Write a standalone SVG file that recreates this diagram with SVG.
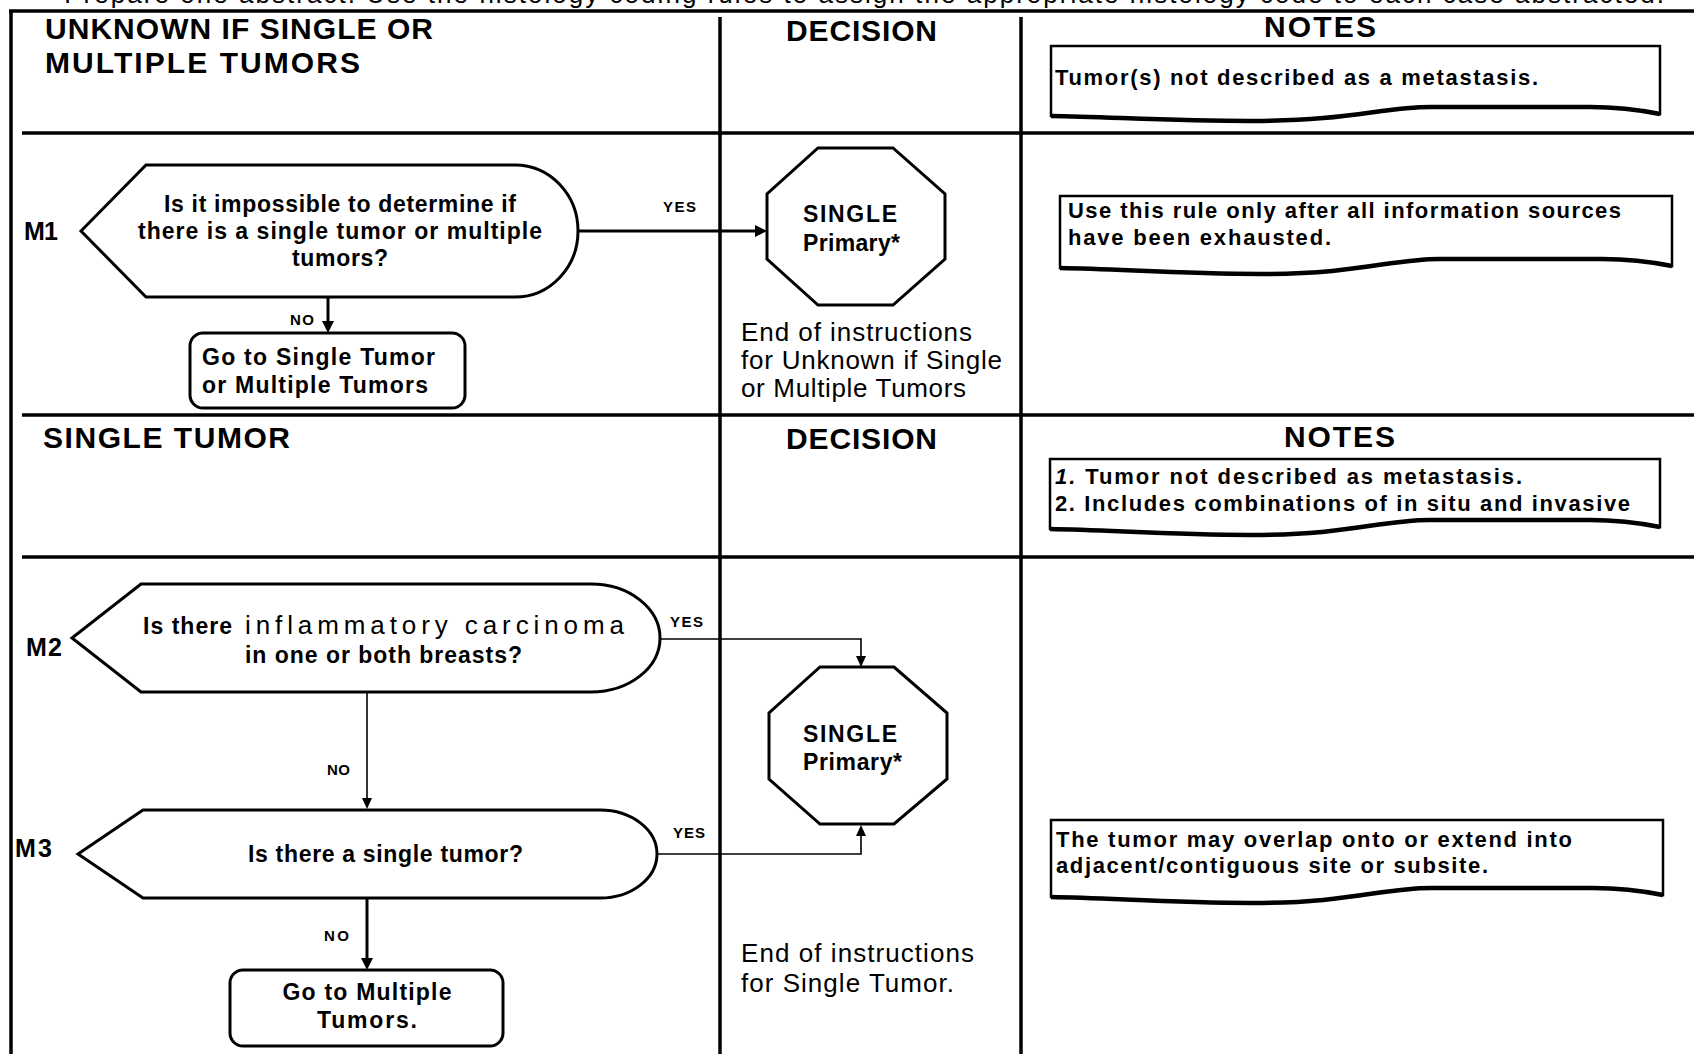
<svg xmlns="http://www.w3.org/2000/svg" width="1694" height="1054" viewBox="0 0 1694 1054">
<defs>
<style>
text{font-family:"Liberation Sans",Arial,sans-serif;fill:#000}
.hdr{font-size:30px;font-weight:bold}
.q{font-size:23px;font-weight:bold}
.oct{font-size:23px;font-weight:bold}
.note{font-size:22px;font-weight:bold}
.plain{font-size:26px}
.lbl{font-size:15px;font-weight:bold}
.m{font-size:25px;font-weight:bold}
.grid{stroke:#000;stroke-width:3.5;fill:none}
.shape{fill:#fff;stroke:#000;stroke-width:3}
.nbox{fill:#fff;stroke:#000;stroke-width:2.5}
.wave{fill:none;stroke:#000;stroke-width:4.5}
.thick{stroke:#000;stroke-width:3;fill:none}
.thin{stroke:#000;stroke-width:1.6;fill:none}
</style>
<marker id="ah" markerUnits="userSpaceOnUse" viewBox="0 0 12 12" refX="1" refY="6" markerWidth="12" markerHeight="12" orient="auto"><path d="M0,0 L12,6 L0,12 Z" fill="#000"/></marker>
<marker id="ahs" markerUnits="userSpaceOnUse" viewBox="0 0 11 10" refX="1" refY="5" markerWidth="11" markerHeight="10" orient="auto"><path d="M0,0 L11,5 L0,10 Z" fill="#000"/></marker>
</defs>
<rect x="0" y="0" width="1694" height="1054" fill="#fff"/>
<text class="plain" x="52" y="3" textLength="1612" lengthAdjust="spacing">*Prepare one abstract. Use the histology coding rules to assign the appropriate histology code to each case abstracted.</text>

<g id="grid">
<path class="grid" d="M9,11 H1694 M11,11 V1054 M720,17 V1054 M1021,17 V1054 M22,133 H1694 M22,415 H1694 M22,557 H1694"/>
</g>

<g id="headers">
<text class="hdr" x="45" y="39" textLength="388" lengthAdjust="spacing">UNKNOWN IF SINGLE OR</text>
<text class="hdr" x="45" y="73" textLength="315" lengthAdjust="spacing">MULTIPLE TUMORS</text>
<text class="hdr" x="786" y="41" textLength="151" lengthAdjust="spacing">DECISION</text>
<text class="hdr" x="1264" y="37" textLength="112" lengthAdjust="spacing">NOTES</text>
<text class="hdr" x="43" y="448" textLength="247" lengthAdjust="spacing">SINGLE TUMOR</text>
<text class="hdr" x="786" y="449" textLength="151" lengthAdjust="spacing">DECISION</text>
<text class="hdr" x="1284" y="447" textLength="111" lengthAdjust="spacing">NOTES</text>
</g>

<g id="connectors">
<path class="thick" d="M578,231 H756" marker-end="url(#ah)"/>
<path class="thick" d="M328,297 V322" marker-end="url(#ah)"/>
<path class="thin" d="M660,639 H861 V657" marker-end="url(#ahs)"/>
<path class="thin" d="M367,692 V799" marker-end="url(#ahs)"/>
<path class="thin" d="M657,854 H861 V835" marker-end="url(#ahs)"/>
<path class="thick" d="M367,898 V959" marker-end="url(#ah)"/>
<text class="lbl" x="663" y="212" textLength="33" lengthAdjust="spacing">YES</text>
<text class="lbl" x="290" y="325" textLength="24" lengthAdjust="spacing">NO</text>
<text class="lbl" x="670" y="627" textLength="33" lengthAdjust="spacing">YES</text>
<text class="lbl" x="327" y="775" textLength="23" lengthAdjust="spacing">NO</text>
<text class="lbl" x="673" y="838" textLength="32" lengthAdjust="spacing">YES</text>
<text class="lbl" x="324" y="941" textLength="25" lengthAdjust="spacing">NO</text>
</g>

<g id="note1">
<path class="nbox" d="M1051,46 H1660 V114 C1635,109 1615,107 1590,107 L1431,107 C1381,107 1351,121 1251,121 C1171,121 1111,117 1051,116 Z"/>
<path class="wave" d="M1660,114 C1635,109 1615,107 1590,107 L1431,107 C1381,107 1351,121 1251,121 C1171,121 1111,117 1051,116"/>
<text class="note" x="1055" y="85" textLength="483" lengthAdjust="spacing">Tumor(s) not described as a metastasis.</text>
</g>

<g id="M1">
<text class="m" x="24" y="240" textLength="34" lengthAdjust="spacing">M1</text>
<path class="shape" d="M81,231 L146,165 H515 A63,66 0 0 1 515,297 H146 Z"/>
<text class="q" x="340" y="212" text-anchor="middle" textLength="352" lengthAdjust="spacing">Is it impossible to determine if</text>
<text class="q" x="340" y="239" text-anchor="middle" textLength="404" lengthAdjust="spacing">there is a single tumor or multiple</text>
<text class="q" x="340" y="266" text-anchor="middle" textLength="96" lengthAdjust="spacing">tumors?</text>
</g>

<g id="go1">
<rect class="shape" x="190" y="333" width="275" height="75" rx="13"/>
<text class="q" x="202" y="365" textLength="233" lengthAdjust="spacing">Go to Single Tumor</text>
<text class="q" x="202" y="393" textLength="226" lengthAdjust="spacing">or Multiple Tumors</text>
</g>

<g id="single1">
<polygon class="shape" points="818,148 893,148 945,194 945,259 893,305 818,305 767,259 767,194"/>
<text class="oct" x="803" y="222" textLength="94" lengthAdjust="spacing">SINGLE</text>
<text class="oct" x="803" y="251" textLength="97" lengthAdjust="spacing">Primary*</text>
</g>

<g id="end1">
<text class="plain" x="741" y="341" textLength="231" lengthAdjust="spacing">End of instructions</text>
<text class="plain" x="741" y="369" textLength="261" lengthAdjust="spacing">for Unknown if Single</text>
<text class="plain" x="741" y="397" textLength="225" lengthAdjust="spacing">or Multiple Tumors</text>
</g>

<g id="note2">
<path class="nbox" d="M1060,196 H1672 V266 C1647,261 1627,259 1602,259 L1440,259 C1390,259 1360,274 1260,274 C1180,274 1120,269 1060,268 Z"/>
<path class="wave" d="M1672,266 C1647,261 1627,259 1602,259 L1440,259 C1390,259 1360,274 1260,274 C1180,274 1120,269 1060,268"/>
<text class="note" x="1068" y="218" textLength="553" lengthAdjust="spacing">Use this rule only after all information sources</text>
<text class="note" x="1068" y="245" textLength="263" lengthAdjust="spacing">have been exhausted.</text>
</g>

<g id="note3">
<path class="nbox" d="M1050,459 H1660 V527 C1635,522 1615,520 1590,520 L1430,520 C1380,520 1350,535 1250,535 C1170,535 1110,530 1050,529 Z"/>
<path class="wave" d="M1660,527 C1635,522 1615,520 1590,520 L1430,520 C1380,520 1350,535 1250,535 C1170,535 1110,530 1050,529"/>
<text class="note" x="1055" y="484" textLength="467" lengthAdjust="spacing"><tspan font-style="italic">1.</tspan> Tumor not described as metastasis.</text>
<text class="note" x="1055" y="511" textLength="575" lengthAdjust="spacing">2. Includes combinations of in situ and invasive</text>
</g>

<g id="M2">
<text class="m" x="26" y="656" textLength="36" lengthAdjust="spacing">M2</text>
<path class="shape" d="M72,638 L141,584 H591 A69,54 0 0 1 591,692 H141 Z"/>
<text class="q" x="143" y="634" textLength="89" lengthAdjust="spacing">Is there</text>
<text x="245" y="634" font-size="26" textLength="379" lengthAdjust="spacing">inflammatory carcinoma</text>
<text class="q" x="245" y="663" textLength="277" lengthAdjust="spacing">in one or both breasts?</text>
</g>

<g id="M3">
<text class="m" x="15" y="857" textLength="37" lengthAdjust="spacing">M3</text>
<path class="shape" d="M78,854 L143,810 H600 A57,44 0 0 1 600,898 H143 Z"/>
<text class="q" x="248" y="862" textLength="275" lengthAdjust="spacing">Is there a single tumor?</text>
</g>

<g id="single2">
<polygon class="shape" points="820,667 894,667 947,713 947,779 894,824 820,824 769,779 769,713"/>
<text class="oct" x="803" y="742" textLength="94" lengthAdjust="spacing">SINGLE</text>
<text class="oct" x="803" y="770" textLength="99" lengthAdjust="spacing">Primary*</text>
</g>

<g id="go2">
<rect class="shape" x="230" y="970" width="273" height="76" rx="13"/>
<text class="q" x="367" y="1000" text-anchor="middle" textLength="169" lengthAdjust="spacing">Go to Multiple</text>
<text class="q" x="367" y="1028" text-anchor="middle" textLength="100" lengthAdjust="spacing">Tumors.</text>
</g>

<g id="end2">
<text class="plain" x="741" y="962" textLength="233" lengthAdjust="spacing">End of instructions</text>
<text class="plain" x="741" y="992" textLength="213" lengthAdjust="spacing">for Single Tumor.</text>
</g>

<g id="note4">
<path class="nbox" d="M1051,820 H1663 V895 C1638,890 1618,888 1593,888 L1431,888 C1381,888 1351,903 1251,903 C1171,903 1111,898 1051,897 Z"/>
<path class="wave" d="M1663,895 C1638,890 1618,888 1593,888 L1431,888 C1381,888 1351,903 1251,903 C1171,903 1111,898 1051,897"/>
<text class="note" x="1056" y="847" textLength="516" lengthAdjust="spacing">The tumor may overlap onto or extend into</text>
<text class="note" x="1056" y="873" textLength="432" lengthAdjust="spacing">adjacent/contiguous site or subsite.</text>
</g>
</svg>
